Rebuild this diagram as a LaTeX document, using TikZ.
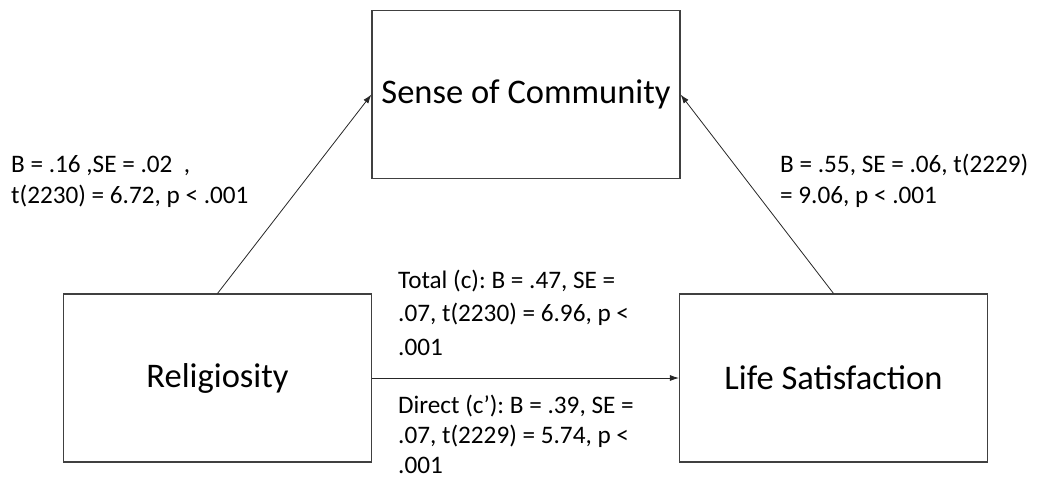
\documentclass[tikz,border=0pt]{standalone}
\usepackage{fontspec}
\setmainfont{Carlito}
\usetikzlibrary{arrows.meta}
\frenchspacing
\newcommand{\twolines}[3][33pt]{\vtop{\baselineskip=#1\hbox{#2}\hbox{#3}}}
\newcommand{\threelines}[4][33.5pt]{\vtop{\baselineskip=#1\hbox{#2}\hbox{#3}\hbox{#4}}}
\tikzset{
  varbox/.style={draw=black!75, line width=1.1pt, rectangle, inner sep=0pt,
    minimum width=308pt, minimum height=168pt, font=\fontsize{34.5}{40}\selectfont},
  path/.style={draw=black!85, line width=0.8pt, -{Latex[length=9pt,width=6pt]}},
  lab/.style={anchor=base west, inner sep=0pt,
    font=\fontsize{25.2}{33}\selectfont}
}
\begin{document}
\begin{tikzpicture}[x=1pt,y=-1pt]
\useasboundingbox (0,0) rectangle (1039,483);
\node[varbox] (soc) at (526,94.5) {Sense of Community};
\node[varbox] (rel) at (217.5,378) {Religiosity};
\node[varbox] (ls) at (833.5,378) {Life Satisfaction};
\draw[path] (rel.north) -- (soc.west);
\draw[path] (ls.north) -- (soc.east);
\draw[path] (rel.east) -- (ls.west);
\node[lab] (la) at (11,172) {\twolines[31pt]{B = .16 ,SE = .02~~,}{t(2230) = 6.72, p < .001}};
\node[lab] (lb) at (780,172) {\twolines[31pt]{B = .55, SE = .06, t(2229)}{= 9.06, p < .001}};
\node[lab] (lc) at (398,288) {\threelines{Total (c): B = .47, SE =}{.07, t(2230) = 6.96, p <}{.001}};
\node[lab] (ld) at (398,413) {\threelines[30pt]{Direct (c’): B = .39, SE =}{.07, t(2229) = 5.74, p <}{.001}};
\end{tikzpicture}
\end{document}
